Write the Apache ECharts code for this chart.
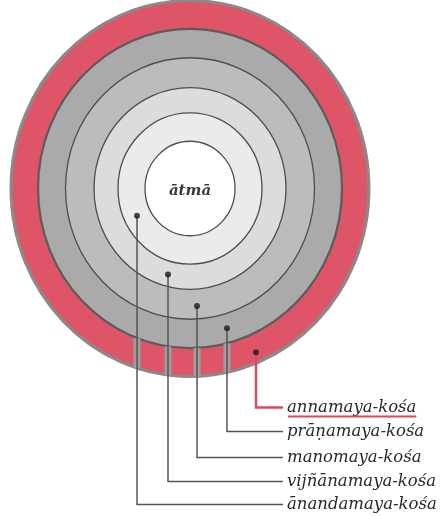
<!DOCTYPE html>
<html><head><meta charset="utf-8">
<script src="https://cdn.jsdelivr.net/npm/echarts@6/dist/echarts.min.js"></script>
<style>html,body{margin:0;padding:0;background:#fff}#c{width:442px;height:516px}</style>
</head><body><div id="c"></div>
<script>
// ---- data (diagram units; centre of the sheaths is the origin) ----
const sheathNames = ['annamaya-kośa', 'prāṇamaya-kośa', 'manomaya-kośa', 'vijñānamaya-kośa', 'ānandamaya-kośa'];
const coreName = 'ātmā';
const sheathOuterRadius = [179, 152, 124.5, 96, 72];
const coreRadius = 45;
const markerX = [66, 37, 7, -22, -53];
const markerY = [-156, -133, -112, -82, -26];
const labelRowY = [-208.6, -231.4, -256.2, -279, -301];

// ---- layout / style ----
const W = 442, H = 516, CX = 190, CY = 188.5, YS = 1.05;
const lineEndX = 93, labelX = 97;
const FONT = 'italic 16.5px "DejaVu Serif"';
const ringStyle = [
  {fill: '#de5568', stroke: '#8a8a8a', lw: 3},
  {fill: '#aaaaaa', stroke: '#5c5c5c', lw: 2.2},
  {fill: '#bcbcbc', stroke: '#4e4e4e', lw: 1.3},
  {fill: '#dcdcdc', stroke: '#4e4e4e', lw: 1.3},
  {fill: '#ebebeb', stroke: '#4e4e4e', lw: 1.3},
  {fill: '#ffffff', stroke: '#4e4e4e', lw: 1.3}
];
const radii = sheathOuterRadius.concat([coreRadius]);

const chart = echarts.init(document.getElementById('c'), null, {renderer: 'canvas'});
const measure = document.createElement('canvas').getContext('2d');
measure.font = FONT;

chart.setOption({
  animation: false,
  backgroundColor: '#ffffff',
  grid: {left: 0, right: 0, top: 0, bottom: 0},
  xAxis: {type: 'value', min: -CX, max: W - CX, show: false},
  yAxis: {type: 'value', min: -(H - CY) / YS, max: CY / YS, show: false},
  series: [
    {
      type: 'custom', coordinateSystem: 'cartesian2d', silent: true,
      data: radii.map((r, i) => [r, i]),
      renderItem: function (params, api) {
        const i = params.dataIndex;
        const r = api.value(0);
        const c = api.coord([0, 0]);
        const s = api.size([r, r]);
        const st = ringStyle[i];
        return {
          type: 'ellipse',
          shape: {cx: c[0], cy: c[1], rx: s[0], ry: s[1]},
          style: {fill: st.fill, stroke: st.stroke, lineWidth: st.lw}
        };
      }
    },
    {
      type: 'custom', coordinateSystem: 'cartesian2d', silent: true,
      data: markerX.map((x, i) => [x, markerY[i], labelRowY[i]]),
      renderItem: function (params, api) {
        const i = params.dataIndex;
        const mx = api.value(0), my = api.value(1), ly = api.value(2);
        const p0 = api.coord([mx, my]), p1 = api.coord([mx, ly]), p2 = api.coord([lineEndX, ly]);
        const children = [];
        if (i > 0) {
          const R0 = sheathOuterRadius[0], R1 = sheathOuterRadius[1];
          const a = api.coord([mx, -Math.sqrt(R1 * R1 - mx * mx)]);
          const b = api.coord([mx, -Math.sqrt(R0 * R0 - mx * mx)]);
          children.push({type: 'line', shape: {x1: a[0], y1: a[1], x2: b[0], y2: b[1]},
            style: {stroke: '#9d9d9d', lineWidth: 7}});
        }
        children.push({type: 'polyline', shape: {points: [p0, p1, p2]},
          style: {stroke: i === 0 ? '#e0475f' : '#555555', lineWidth: i === 0 ? 2.5 : 1.5, fill: null}});
        return {type: 'group', children: children};
      }
    },
    {
      type: 'scatter', silent: true, symbol: 'circle', symbolSize: 6,
      itemStyle: {color: '#1c1c1c'},
      data: markerX.map((x, i) => [x, markerY[i]])
    },
    {
      type: 'custom', coordinateSystem: 'cartesian2d', silent: true,
      data: labelRowY.map((y, i) => [labelX, y, i]),
      renderItem: function (params, api) {
        const i = params.dataIndex;
        const p = api.coord([api.value(0), api.value(1)]);
        const children = [{
          type: 'text', x: p[0], y: p[1],
          style: {text: sheathNames[i], fill: '#2a2a2e', fontStyle: 'italic', fontSize: 16.5,
            fontFamily: 'DejaVu Serif', verticalAlign: 'middle', align: 'left'}
        }];
        if (i === 0) {
          const w = measure.measureText(sheathNames[i]).width;
          children.push({type: 'line', shape: {x1: p[0] + 1, y1: p[1] + 9, x2: p[0] + w, y2: p[1] + 9},
            style: {stroke: '#e0475f', lineWidth: 2}});
        }
        return {type: 'group', children: children};
      }
    },
    {
      type: 'custom', coordinateSystem: 'cartesian2d', silent: true,
      data: [[0, 0]],
      renderItem: function (params, api) {
        const p = api.coord([api.value(0), api.value(1)]);
        return {type: 'text', x: p[0], y: p[1] + 3,
          style: {text: coreName, fill: '#3a3a3a', fontStyle: 'italic', fontWeight: 'bold', fontSize: 15,
            fontFamily: 'DejaVu Serif', verticalAlign: 'middle', align: 'center'}};
      }
    }
  ]
});
</script>
</body></html>
